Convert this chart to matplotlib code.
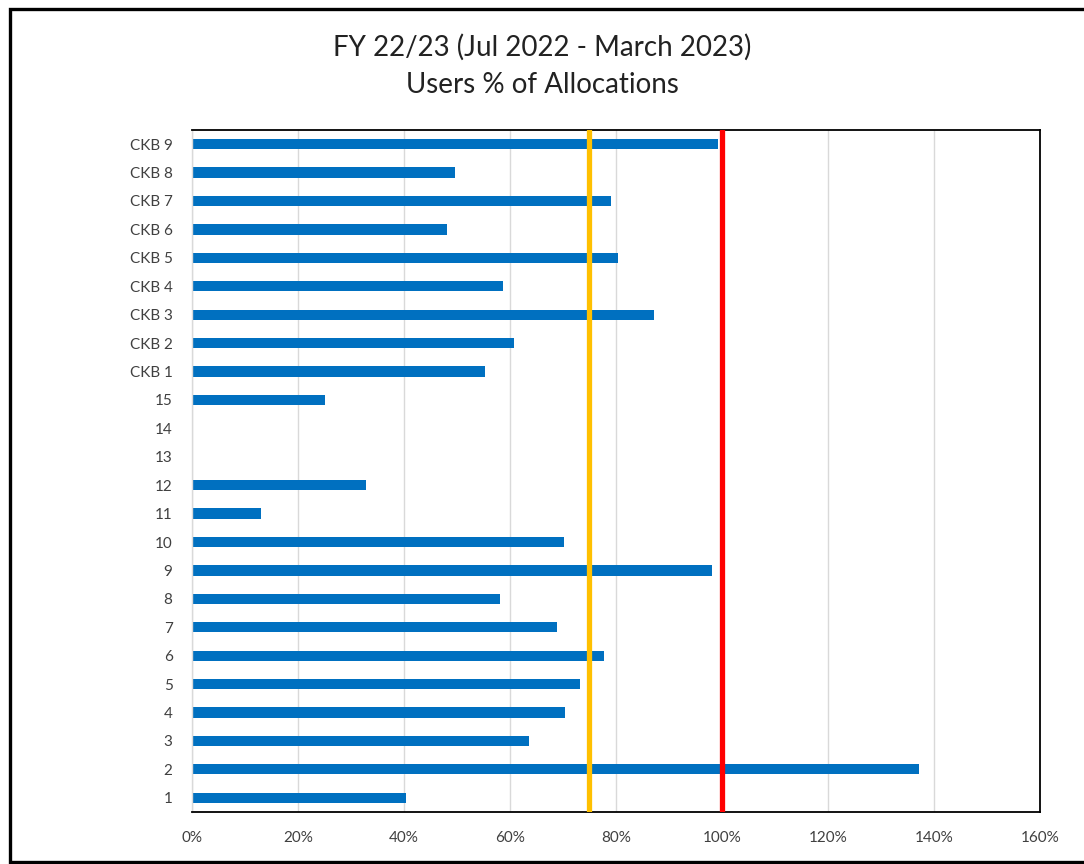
import matplotlib
matplotlib.use("Agg")
import matplotlib.pyplot as plt
from matplotlib.lines import Line2D
from matplotlib.ticker import FuncFormatter, MultipleLocator

plt.rcParams['font.family'] = ['Lato', 'DejaVu Sans']

categories = ["1", "2", "3", "4", "5", "6", "7", "8", "9", "10", "11", "12", "13", "14", "15",
              "CKB 1", "CKB 2", "CKB 3", "CKB 4", "CKB 5", "CKB 6", "CKB 7", "CKB 8", "CKB 9"]
values = [40.4, 137.2, 63.6, 70.4, 73.2, 77.7, 68.9, 58.1, 98.1, 70.2, 13.0, 32.8, 0, 0, 25.1,
          55.3, 60.8, 87.2, 58.7, 80.4, 48.1, 79.0, 49.6, 99.2]
target_line = 75
limit_line = 100
title_lines = ["FY 22/23 (Jul 2022 - March 2023)", "Users % of Allocations"]

fig = plt.figure(figsize=(10.84, 8.64), dpi=100)
ax = fig.add_axes([0.1771, 0.0602, 0.7823, 0.7894])

ypos = list(range(len(categories)))
ax.barh(ypos, values, height=0.36, color="#0070C0", zorder=2)
ax.axvline(target_line, color="#FFC000", lw=3.8, zorder=3)
ax.axvline(limit_line, color="#FF0000", lw=3.8, zorder=3)

ax.set_xlim(0, 160)
ax.set_ylim(-0.5, len(categories) - 0.5)
ax.set_yticks(ypos)
ax.set_yticklabels(categories)
ax.xaxis.set_major_locator(MultipleLocator(20))
ax.xaxis.set_major_formatter(FuncFormatter(lambda v, p: f"{int(v)}%"))
ax.grid(axis="x", color="#D9D9D9", lw=1, zorder=0)
ax.tick_params(axis="both", length=0, labelsize=11, colors="#404040")
ax.tick_params(axis="y", pad=14)
ax.tick_params(axis="x", pad=14)
for s in ["top", "right", "bottom"]:
    ax.spines[s].set_color("black")
    ax.spines[s].set_linewidth(1.3)
ax.spines["left"].set_color("#D9D9D9")
ax.spines["left"].set_linewidth(1)

fig.text(0.5, 1 - 47 / 864, title_lines[0], ha="center", va="center", fontsize=20, color="#222222")
fig.text(0.5, 1 - 85 / 864, title_lines[1], ha="center", va="center", fontsize=20, color="#222222")

# outer chart frame (top, left, bottom; right edge cut off in the original)
fx0, fx1 = 10 / 1084, 1.02
fy0, fy1 = 2.5 / 864, 1 - 8.5 / 864
fig.add_artist(Line2D([fx1, fx0, fx0, fx1], [fy1, fy1, fy0, fy0], transform=fig.transFigure,
                      color="black", lw=2.4, solid_joinstyle="miter"))

fig.savefig("out.png", dpi=100)
